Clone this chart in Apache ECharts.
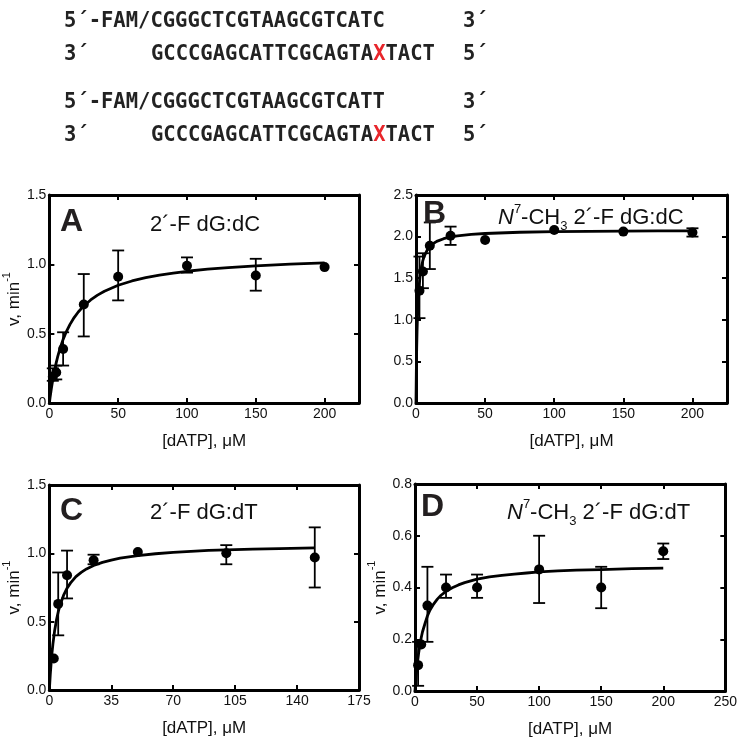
<!DOCTYPE html>
<html>
<head>
<meta charset="utf-8">
<script src="https://cdn.jsdelivr.net/npm/echarts@6/dist/echarts.min.js"></script>
<style>
html,body{margin:0;padding:0;background:#fff;}
#chart{width:740px;height:742px;}
</style>
</head>
<body>
<div id="chart"></div>
<script>
// ---------- Data ----------
// Panel A: 2'-F dG:dC
const A_x  = [2.5, 5, 10, 25, 50, 100, 150, 200];
const A_v  = [0.19, 0.22, 0.39, 0.71, 0.91, 0.99, 0.92, 0.98];
const A_lo = [0.16, 0.17, 0.27, 0.48, 0.74, 0.94, 0.81, null];
const A_hi = [0.25, 0.27, 0.51, 0.93, 1.10, 1.05, 1.04, null];
const A_fitX = [0, 0.5, 1, 1.5, 2, 3, 4, 5, 6, 8, 10, 12, 15, 18, 21, 25, 30, 35, 40, 50, 60, 70, 80, 90, 100, 115, 130, 150, 175, 200];
const A_fitY = [0, 0.039, 0.074, 0.108, 0.139, 0.196, 0.246, 0.291, 0.332, 0.401, 0.459, 0.507, 0.567, 0.616, 0.656, 0.700, 0.743, 0.778, 0.806, 0.849, 0.880, 0.904, 0.922, 0.937, 0.950, 0.965, 0.977, 0.989, 1.001, 1.010];

// Panel B: N7-CH3 2'-F dG:dC
const B_x  = [2.5, 5, 10, 25, 50, 100, 150, 200];
const B_v  = [1.35, 1.58, 1.89, 2.01, 1.96, 2.08, 2.06, 2.05];
const B_lo = [1.02, 1.38, 1.61, 1.90, null, null, null, 2.00];
const B_hi = [1.76, 1.80, 2.17, 2.12, null, null, null, 2.10];
const B_fitX = [0, 0.25, 0.5, 0.75, 1, 1.5, 2, 3, 4, 5, 6, 8, 10, 12, 15, 20, 25, 30, 40, 50, 75, 100, 125, 150, 175, 200];
const B_fitY = [0, 0.394, 0.663, 0.858, 1.005, 1.215, 1.356, 1.534, 1.642, 1.714, 1.766, 1.834, 1.880, 1.911, 1.942, 1.975, 1.996, 2.009, 2.027, 2.037, 2.052, 2.059, 2.063, 2.066, 2.068, 2.070];

// Panel C: 2'-F dG:dT
const C_x  = [2.5, 5, 10, 25, 50, 100, 150];
const C_v  = [0.23, 0.63, 0.84, 0.95, 1.01, 1.00, 0.97];
const C_lo = [null, 0.40, 0.67, 0.92, null, 0.92, 0.75];
const C_hi = [null, 0.86, 1.02, 0.99, null, 1.06, 1.19];
const C_fitX = [0, 0.5, 1, 1.5, 2, 3, 4, 5, 6, 8, 10, 12, 15, 18, 21, 25, 30, 35, 40, 50, 60, 70, 80, 90, 100, 115, 130, 150];
const C_fitY = [0, 0.110, 0.199, 0.273, 0.336, 0.436, 0.511, 0.571, 0.619, 0.692, 0.745, 0.784, 0.830, 0.861, 0.886, 0.911, 0.934, 0.951, 0.965, 0.984, 0.997, 1.007, 1.015, 1.021, 1.025, 1.031, 1.035, 1.040];

// Panel D: N7-CH3 2'-F dG:dT
const D_x  = [2.5, 5, 10, 25, 50, 100, 150, 200];
const D_v  = [0.10, 0.18, 0.33, 0.40, 0.40, 0.47, 0.40, 0.54];
const D_lo = [0.02, null, 0.19, 0.36, 0.36, 0.34, 0.32, 0.51];
const D_hi = [0.19, null, 0.48, 0.45, 0.45, 0.60, 0.48, 0.57];
const D_fitX = [0, 0.5, 1, 1.5, 2, 3, 4, 5, 6, 8, 10, 12, 15, 18, 21, 25, 30, 35, 40, 50, 60, 70, 80, 90, 100, 115, 130, 150, 175, 200];
const D_fitY = [0, 0.033, 0.062, 0.088, 0.110, 0.149, 0.180, 0.206, 0.228, 0.260, 0.290, 0.312, 0.336, 0.355, 0.370, 0.385, 0.399, 0.410, 0.419, 0.432, 0.441, 0.447, 0.452, 0.456, 0.460, 0.464, 0.467, 0.469, 0.473, 0.475];

// Axis ranges / ticks
const X_TICKS = { A: [0, 225, 50], B: [0, 225, 50], C: [0, 175, 35], D: [0, 250, 50] };
const Y_TICKS = { A: [0, 1.5, 0.5], B: [0, 2.5, 0.5], C: [0, 1.5, 0.5], D: [0, 0.8, 0.2] };

// Texts
const SEQ = [
  ['5´-FAM/CGGGCTCGTAAGCGTCATC', '3´'],
  ['3´', 'GCCCGAGCATTCGCAGTA', 'X', 'TACT', '5´'],
  ['5´-FAM/CGGGCTCGTAAGCGTCATT', '3´'],
  ['3´', 'GCCCGAGCATTCGCAGTA', 'X', 'TACT', '5´']
];
const PANEL_LETTERS = ['A', 'B', 'C', 'D'];
const PANEL_TITLES = [
  '{n|2´-F dG:dC}',
  '{i|N}{sup|7}{n|-CH}{sub|3}{n| 2´-F dG:dC}',
  '{n|2´-F dG:dT}',
  '{i|N}{sup|7}{n|-CH}{sub|3}{n| 2´-F dG:dT}'
];
const X_NAME = '[dATP], μM';
const Y_NAME = '{n|v, min}{sup|-1}';

// ---------- Layout ----------
const GRIDS = [
  { left: 48, top: 195, width: 311, height: 208 },
  { left: 416, top: 195, width: 311, height: 208 },
  { left: 49, top: 485, width: 310, height: 205 },
  { left: 415, top: 484, width: 313, height: 207 }
];
const keys = ['A', 'B', 'C', 'D'];
const data = {
  A: [A_x, A_v, A_lo, A_hi, A_fitX, A_fitY],
  B: [B_x, B_v, B_lo, B_hi, B_fitX, B_fitY],
  C: [C_x, C_v, C_lo, C_hi, C_fitX, C_fitY],
  D: [D_x, D_v, D_lo, D_hi, D_fitX, D_fitY]
};
const SHOW_YNAME = [true, false, true, true];
const INK = '#111';
const SANS = '"Liberation Sans", Arial, Helvetica, sans-serif';

function errRender(params, api) {
  const x = api.value(0), lo = api.value(1), hi = api.value(2);
  const a = api.coord([x, lo]), b = api.coord([x, hi]);
  const w = 6;
  const style = { stroke: '#000', lineWidth: 1.8 };
  return {
    type: 'group',
    children: [
      { type: 'line', shape: { x1: a[0], y1: a[1], x2: b[0], y2: b[1] }, style },
      { type: 'line', shape: { x1: a[0] - w, y1: a[1], x2: a[0] + w, y2: a[1] }, style },
      { type: 'line', shape: { x1: b[0] - w, y1: b[1], x2: b[0] + w, y2: b[1] }, style }
    ]
  };
}

const grid = [], xAxis = [], yAxis = [], series = [];
keys.forEach((k, i) => {
  grid.push(Object.assign({ containLabel: false }, GRIDS[i]));
  const [xmin, xmax, xint] = X_TICKS[k];
  const [ymin, ymax, yint] = Y_TICKS[k];
  const axisCommon = {
    axisLine: { show: true, onZero: false, lineStyle: { color: '#000', width: 3 } },
    axisTick: { show: true, inside: true, length: 5, lineStyle: { color: '#000', width: 2 } },
    splitLine: { show: false }
  };
  xAxis.push(Object.assign({}, axisCommon, {
    type: 'value', gridIndex: i, position: 'bottom', min: xmin, max: xmax, interval: xint,
    axisLabel: {
      show: true, margin: 4, color: INK, fontSize: 14, fontFamily: SANS,
      formatter: v => (Math.abs(v % xint) < 1e-9 ? String(v) : '')
    },
    name: X_NAME, nameLocation: 'middle', nameGap: 30,
    nameTextStyle: { color: INK, fontSize: 17, fontFamily: SANS }
  }));
  xAxis.push(Object.assign({}, axisCommon, {
    type: 'value', gridIndex: i, position: 'top', min: xmin, max: xmax, interval: xint,
    axisLabel: { show: false }
  }));
  yAxis.push(Object.assign({}, axisCommon, {
    type: 'value', gridIndex: i, position: 'left', min: ymin, max: ymax, interval: yint,
    axisLabel: {
      show: true, margin: 3, color: INK, fontSize: 14, fontFamily: SANS,
      formatter: v => v.toFixed(1)
    },
    name: SHOW_YNAME[i] ? Y_NAME : '', nameLocation: 'middle', nameGap: 19,
    nameTextStyle: {
      color: INK, fontFamily: SANS,
      rich: {
        n: { fontSize: 17, fontFamily: SANS, color: INK, lineHeight: 22, verticalAlign: 'bottom' },
        sup: { fontSize: 11, fontFamily: SANS, color: INK, lineHeight: 22, verticalAlign: 'top' }
      }
    }
  }));
  yAxis.push(Object.assign({}, axisCommon, {
    type: 'value', gridIndex: i, position: 'right', min: ymin, max: ymax, interval: yint,
    axisLabel: { show: false }
  }));

  const [px, pv, plo, phi, fx, fy] = data[k];
  series.push({
    type: 'line', xAxisIndex: 2 * i, yAxisIndex: 2 * i,
    data: fx.map((x, j) => [x, fy[j]]),
    smooth: false, showSymbol: false, symbol: 'none',
    lineStyle: { color: '#000', width: 2.8, join: 'round' }, silent: true, z: 2
  });
  const errs = [];
  px.forEach((x, j) => { if (plo[j] != null && phi[j] != null) errs.push([x, plo[j], phi[j]]); });
  series.push({
    type: 'custom', xAxisIndex: 2 * i, yAxisIndex: 2 * i,
    renderItem: errRender, data: errs, encode: { x: 0, y: [1, 2] }, z: 3, silent: true
  });
  series.push({
    type: 'scatter', xAxisIndex: 2 * i, yAxisIndex: 2 * i,
    data: px.map((x, j) => [x, pv[j]]),
    symbol: 'circle', symbolSize: 10, itemStyle: { color: '#000', opacity: 1 }, z: 4, silent: true
  });
});

// ---------- Graphic texts ----------
const SEQ_FONT = 'bold 20.5px "DejaVu Sans Mono", "Liberation Mono", monospace';
const SEQ_Y = [22, 55, 103, 136];
const graphic = [];
function seqText(x, y, text) {
  return { type: 'text', x, y, style: { text, font: SEQ_FONT, fill: '#222', align: 'left', verticalAlign: 'middle', textAlign: 'left', textVerticalAlign: 'middle' } };
}
SEQ.forEach((line, li) => {
  const y = SEQ_Y[li];
  if (line.length === 2) {
    graphic.push(seqText(64, y, line[0]));
    graphic.push(seqText(463, y, line[1]));
  } else {
    graphic.push(seqText(64, y, line[0]));
    graphic.push({ type: 'text', x: 151, y, style: {
      text: '{b|' + line[1] + '}{r|' + line[2] + '}{b|' + line[3] + '}',
      font: SEQ_FONT, align: 'left', verticalAlign: 'middle', textAlign: 'left', textVerticalAlign: 'middle',
      rich: { b: { font: SEQ_FONT, fill: '#222' }, r: { font: SEQ_FONT, fill: '#e8262b' } }
    } });
    graphic.push(seqText(463, y, line[4]));
  }
});
const LETTER_POS = [[60, 222], [423, 214], [60, 511], [421, 507]];
const TITLE_POS = [[150, 225], [498, 218], [150, 513], [507, 513]];
PANEL_LETTERS.forEach((L, i) => {
  graphic.push({ type: 'text', x: LETTER_POS[i][0], y: LETTER_POS[i][1], z: 10, style: {
    text: L, font: 'bold 32px ' + SANS, fill: '#231f20', align: 'left', verticalAlign: 'middle', textAlign: 'left', textVerticalAlign: 'middle' } });
  graphic.push({ type: 'text', x: TITLE_POS[i][0], y: TITLE_POS[i][1], z: 10, style: {
    text: PANEL_TITLES[i], align: 'left', verticalAlign: 'middle', textAlign: 'left', textVerticalAlign: 'middle',
    rich: {
      n: { fontSize: 22, fontFamily: SANS, fill: INK, lineHeight: 30, verticalAlign: 'middle' },
      i: { fontSize: 22, fontFamily: SANS, fontStyle: 'italic', fill: INK, lineHeight: 30, verticalAlign: 'middle' },
      sup: { fontSize: 13, fontFamily: SANS, fill: INK, lineHeight: 18, verticalAlign: 'top' },
      sub: { fontSize: 13, fontFamily: SANS, fill: INK, lineHeight: 16, verticalAlign: 'bottom' }
    }
  } });
});

const chart = echarts.init(document.getElementById('chart'), null, { renderer: 'canvas' });
chart.setOption({
  animation: false,
  backgroundColor: '#fff',
  grid, xAxis, yAxis, series, graphic
});
</script>
</body>
</html>
